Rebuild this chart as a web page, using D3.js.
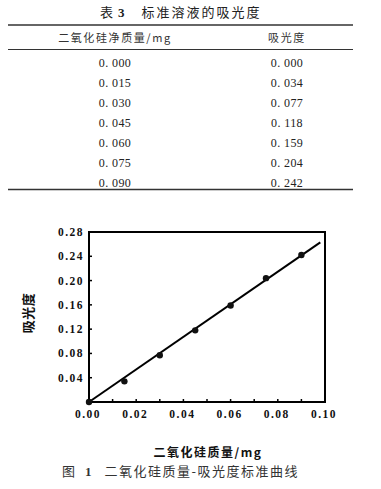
<!DOCTYPE html>
<html><head><meta charset="utf-8">
<script src="https://cdn.jsdelivr.net/npm/d3@7"></script>
<style>
html,body{margin:0;padding:0;background:#fff;}
svg{display:block;}
</style></head>
<body>
<script>
// ---- data ----
const tableTitleNum = "3";
const tableTitleText = "标准溶液的吸光度";
const headers = ["二氧化硅净质量/mg", "吸光度"];
const mass = [0.000, 0.015, 0.030, 0.045, 0.060, 0.075, 0.090];
const absorbance = [0.000, 0.034, 0.077, 0.118, 0.159, 0.204, 0.242];
const xTicks = [0.00, 0.02, 0.04, 0.06, 0.08, 0.10];
const xMinorTicks = [0.01, 0.02, 0.03, 0.04, 0.05, 0.06, 0.07, 0.08, 0.09];
const yTicks = [0.04, 0.08, 0.12, 0.16, 0.20, 0.24, 0.28];
const fitX = [0.0, 0.098];
const fitY = [0.0, 0.263];
const xTitle = "二氧化硅质量/mg";
const yTitle = "吸光度";
const figNum = "1";
const figCaption = "二氧化硅质量-吸光度标准曲线";

const W = 381, H = 489;
const svg = d3.select("body").append("svg").attr("width", W).attr("height", H);

const serif = "'Liberation Serif','DejaVu Serif',serif";
const cjk = "'Noto Sans CJK SC','Noto Sans CJK JP',sans-serif";

// ---- table ----
const tt = svg.append("text").attr("x", 100).attr("y", 17).attr("fill", "#222")
  .style("font-size", "13px");
tt.append("tspan").text("表").style("font-family", cjk);
tt.append("tspan").attr("dx", 5).text(tableTitleNum).style("font-family", serif).style("font-weight", "bold");
tt.append("tspan").attr("dx", 17).text(tableTitleText).style("font-family", cjk).style("letter-spacing", "2px");

const rule = (y, w) => svg.append("line").attr("x1", 8).attr("x2", 353).attr("y1", y).attr("y2", y)
  .attr("stroke", "#333").attr("stroke-width", w);
rule(25, 1.3); rule(49.5, 1); rule(189.5, 1.3);

const colX = [115, 287];
svg.selectAll("text.hdr").data(headers).join("text").attr("class", "hdr")
  .attr("x", (d, i) => colX[i]).attr("y", 42).attr("text-anchor", "middle")
  .attr("fill", "#333").style("font-family", cjk).style("font-size", "11px")
  .style("letter-spacing", "1.6px").text(d => d);

const fmt = v => d3.format(".3f")(v).replace(".", ". ");
const rowY = d3.scaleLinear().domain([0, 1]).range([66.5, 86.5]);
const rows = svg.append("g");
mass.forEach((m, i) => {
  [m, absorbance[i]].forEach((v, j) => {
    rows.append("text").attr("x", colX[j]).attr("y", rowY(i)).attr("text-anchor", "middle")
      .attr("fill", "#222").style("font-family", serif).style("font-size", "12px")
      .style("letter-spacing", "0.4px").text(fmt(v));
  });
});

// ---- chart ----
const x = d3.scaleLinear().domain([0, 0.10]).range([89, 325]);
const y = d3.scaleLinear().domain([0, 0.28]).range([402, 232]);

const g = svg.append("g");

// inner ticks
g.selectAll("line.xt").data(xMinorTicks).join("line").attr("class", "xt")
  .attr("x1", d => x(d)).attr("x2", d => x(d)).attr("y1", y(0)).attr("y2", y(0) - 3)
  .attr("stroke", "#000").attr("stroke-width", 1.5);
g.selectAll("line.yt").data(yTicks).join("line").attr("class", "yt")
  .attr("x1", x(0)).attr("x2", x(0) + 3).attr("y1", d => y(d)).attr("y2", d => y(d))
  .attr("stroke", "#000").attr("stroke-width", 1.5);

// frame
g.append("rect").attr("x", x(0)).attr("y", y(0.28)).attr("width", x(0.10) - x(0)).attr("height", y(0) - y(0.28))
  .attr("fill", "none").attr("stroke", "#000").attr("stroke-width", 2);

// tick labels
g.selectAll("text.xl").data(xTicks).join("text").attr("class", "xl")
  .attr("x", d => x(d) - 1).attr("y", 417.5).attr("text-anchor", "middle")
  .style("font-family", serif).style("font-size", "11.5px").style("font-weight", "bold")
  .style("letter-spacing", "1.5px").attr("fill", "#111").text(d => d3.format(".2f")(d));
g.selectAll("text.yl").data(yTicks).join("text").attr("class", "yl")
  .attr("x", 84).attr("y", d => y(d) + 4).attr("text-anchor", "end")
  .style("font-family", serif).style("font-size", "11.5px").style("font-weight", "bold")
  .style("letter-spacing", "1.5px").attr("fill", "#111").text(d => d3.format(".2f")(d));

// fit line
const line = d3.line().x(d => x(d[0])).y(d => y(d[1]));
g.append("path").datum(fitX.map((v, i) => [v, fitY[i]])).attr("d", line)
  .attr("fill", "none").attr("stroke", "#000").attr("stroke-width", 2);

// points
g.selectAll("circle.pt").data(mass.map((m, i) => [m, absorbance[i]])).join("circle").attr("class", "pt")
  .attr("cx", d => x(d[0])).attr("cy", d => y(d[1])).attr("r", 3.2).attr("fill", "#111");

// axis titles
svg.append("text").attr("x", 208).attr("y", 457).attr("text-anchor", "middle")
  .style("font-family", cjk).style("font-size", "12px").style("font-weight", "bold")
  .style("letter-spacing", "1.5px").attr("fill", "#111").text(xTitle);
svg.append("text").attr("transform", "translate(33,313) rotate(-90)").attr("text-anchor", "middle")
  .style("font-family", cjk).style("font-size", "13px").style("font-weight", "bold")
  .style("letter-spacing", "0.5px").attr("fill", "#111").text(yTitle);

// caption
const cap = svg.append("text").attr("x", 62).attr("y", 476).attr("fill", "#333").style("font-size", "13px");
cap.append("tspan").text("图").style("font-family", cjk);
cap.append("tspan").attr("dx", 10).text(figNum).style("font-family", serif).style("font-weight", "bold");
cap.append("tspan").attr("dx", 13).text(figCaption).style("font-family", cjk).style("letter-spacing", "1.5px");
</script>
</body></html>
